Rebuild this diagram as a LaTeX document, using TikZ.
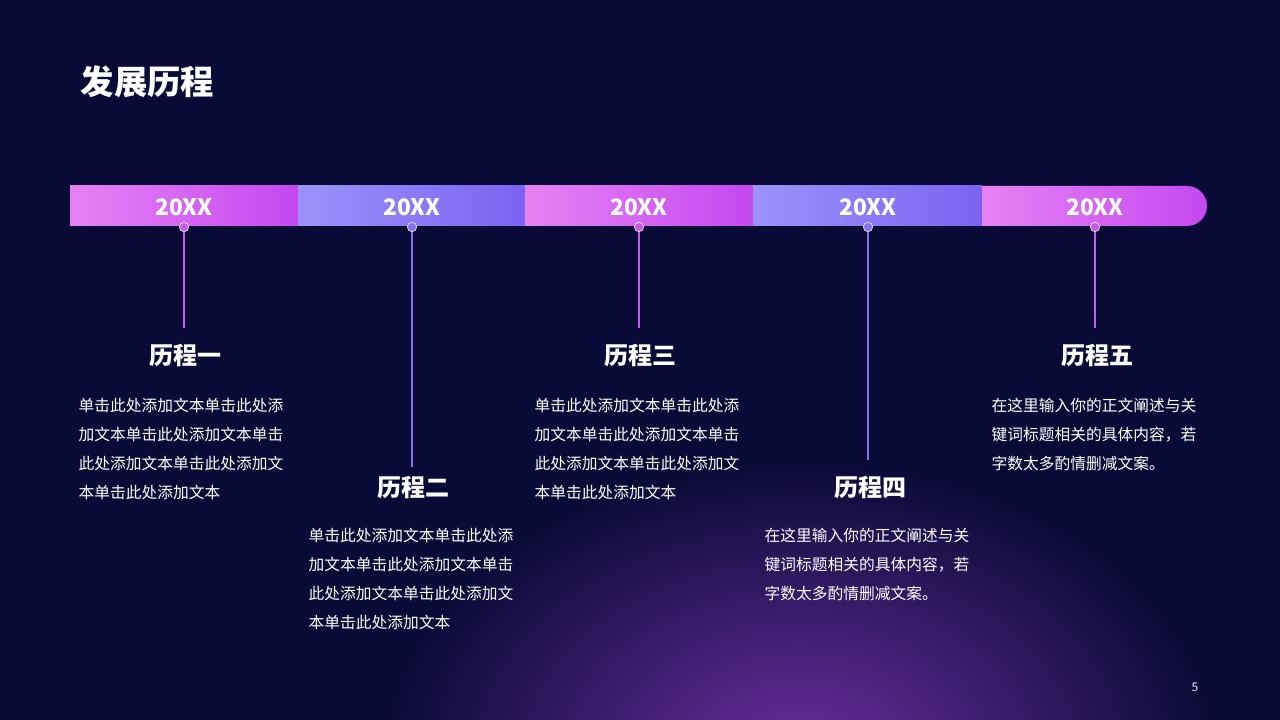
\documentclass[tikz,border=0pt]{standalone}
\usepackage{fontspec}
\setmainfont{Noto Sans CJK SC}
\usetikzlibrary{positioning}
\definecolor{bgdark}{HTML}{0A0A36}
\definecolor{glow}{HTML}{6A2FA0}
\definecolor{pinkA}{HTML}{E682F4}
\definecolor{pinkB}{HTML}{C548F0}
\definecolor{bluA}{HTML}{9C92FA}
\definecolor{bluB}{HTML}{7B63F2}
\definecolor{pinkline}{HTML}{C85AF0}
\definecolor{bluline}{HTML}{8A70F5}
\begin{document}
\begin{tikzpicture}[x=0.75pt,y=-0.75pt,
  year/.style={text=white,font=\bfseries\fontsize{17}{20}\selectfont},
  stage/.style={text=white,font=\bfseries\fontsize{18}{22}\selectfont},
  body/.style={text=white,anchor=north west,align=left,font=\fontsize{11.8}{21.75}\selectfont},
  dot/.style={circle,inner sep=0pt,minimum size=7pt,draw=white!70!gray,line width=0.6pt}]
\useasboundingbox (0,0) rectangle (1280,720);
% background
\fill[bgdark] (0,0) rectangle (1280,720);
\begin{scope}
\clip (0,0) rectangle (1280,720);
\shade[inner color=glow,outer color=bgdark] (800,760) ellipse (420 and 300);
\end{scope}
\node[anchor=west,text=white,font=\bfseries\fontsize{25}{30}\selectfont] (title) at (76,82) {发展历程};
% bar
\shade[left color=pinkA,right color=pinkB] (70,186) rectangle (298,226);
\shade[left color=bluA,right color=bluB] (298,186) rectangle (525,226);
\shade[left color=pinkA,right color=pinkB] (525,186) rectangle (753,226);
\shade[left color=bluA,right color=bluB] (753,186) rectangle (982,226);
\begin{scope}
\clip[rounded corners=15pt] (900,186) rectangle (1207,226);
\shade[left color=pinkA,right color=pinkB] (982,186) rectangle (1207,226);
\end{scope}
\foreach \x/\n/\c/\y in {184/1/pinkline/328,412/2/bluline/467,639/3/pinkline/328,868/4/bluline/460,1095/5/pinkline/328}{
  \node[year] (y\n) at (\x,207) {20XX};
  \coordinate (e\n) at (\x,\y);
  \node[dot,fill=\c] (d\n) at (\x,227) {};
  \draw[\c,line width=1.2pt] (d\n) -- (e\n);
}
\node[stage] (s1) at (185,355) {历程一};
\node[stage] (s2) at (413,487) {历程二};
\node[stage] (s3) at (640,355) {历程三};
\node[stage] (s4) at (870,487) {历程四};
\node[stage] (s5) at (1097,355) {历程五};
\node[body] (t1) at (74,393) {单击此处添加文本单击此处添\\加文本单击此处添加文本单击\\此处添加文本单击此处添加文\\本单击此处添加文本};
\node[body] (t2) at (304,523) {单击此处添加文本单击此处添\\加文本单击此处添加文本单击\\此处添加文本单击此处添加文\\本单击此处添加文本};
\node[body] (t3) at (530,393) {单击此处添加文本单击此处添\\加文本单击此处添加文本单击\\此处添加文本单击此处添加文\\本单击此处添加文本};
\node[body] (t4) at (760,523) {在这里输入你的正文阐述与关\\键词标题相关的具体内容，若\\字数太多酌情删减文案。};
\node[body] (t5) at (987,393) {在这里输入你的正文阐述与关\\键词标题相关的具体内容，若\\字数太多酌情删减文案。};
\node[text=white!80!gray,font=\fontsize{9}{10}\selectfont] (pg) at (1195,687) {5};
\end{tikzpicture}
\end{document}
